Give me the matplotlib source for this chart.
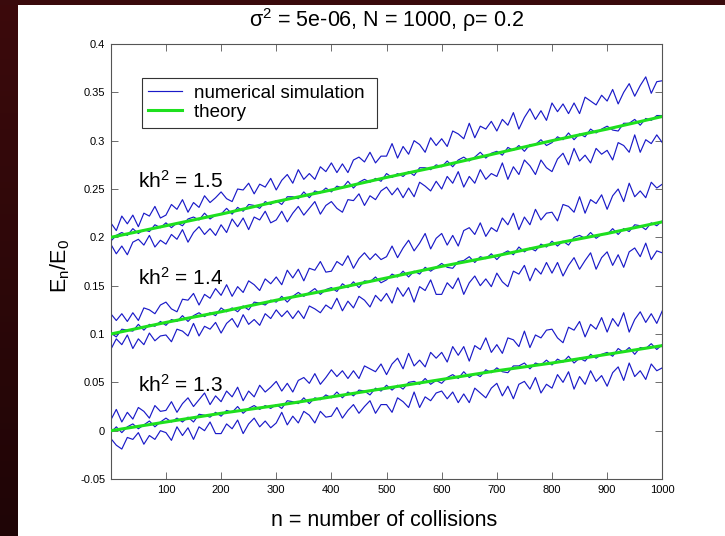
import numpy as np
import matplotlib
matplotlib.use("Agg")
import matplotlib.pyplot as plt
import matplotlib.colors as mco

plt.rcParams['font.family'] = ['Liberation Sans', 'DejaVu Sans']
plt.rcParams['mathtext.fontset'] = 'custom'
plt.rcParams['mathtext.rm'] = 'Liberation Sans'
plt.rcParams['mathtext.it'] = 'Liberation Sans:italic'
plt.rcParams['mathtext.bf'] = 'Liberation Sans:bold'

# collisions sampled every 10 (simulation) and every 100 (theory)
n_sim = list(range(0, 1001, 10))
n_theory = [0, 100, 200, 300, 400, 500, 600, 700, 800, 900, 1000]

# E_n/E_0 values, in thousandths
up_15 = [215, 207, 222, 214, 223, 211, 225, 222, 232, 220,
         223, 234, 229, 239, 226, 236, 231, 243, 236, 241,
         247, 240, 237, 250, 249, 256, 245, 255, 252, 261,
         249, 259, 265, 256, 270, 260, 266, 260, 273, 268,
         277, 267, 276, 267, 280, 283, 278, 288, 277, 284,
         284, 297, 282, 294, 286, 300, 296, 288, 303, 295,
         302, 294, 310, 307, 302, 318, 303, 315, 312, 320,
         310, 322, 316, 329, 312, 324, 333, 322, 331, 321,
         339, 330, 338, 328, 339, 328, 345, 341, 337, 347,
         341, 353, 338, 350, 359, 346, 357, 366, 349, 361, 362]
mid_15 = [196, 202, 205, 202, 209, 204, 208, 206, 213, 210,
          215, 210, 215, 212, 219, 221, 218, 225, 219, 223,
          224, 230, 224, 231, 227, 234, 233, 230, 237, 234,
          238, 234, 242, 242, 240, 247, 241, 248, 246, 251,
          247, 253, 251, 258, 251, 257, 260, 257, 261, 258,
          266, 262, 266, 263, 268, 264, 272, 272, 270, 275,
          273, 279, 273, 280, 283, 279, 283, 288, 282, 287,
          289, 285, 293, 290, 295, 289, 296, 296, 301, 295,
          298, 304, 301, 308, 301, 307, 304, 312, 308, 312,
          315, 311, 310, 318, 318, 322, 316, 323, 321, 326, 326]
low_15 = [193, 183, 191, 182, 195, 198, 192, 202, 190, 197,
          193, 203, 198, 208, 195, 205, 211, 203, 209, 202,
          213, 205, 219, 211, 220, 208, 221, 218, 227, 215,
          218, 227, 216, 225, 232, 223, 230, 237, 224, 233,
          237, 230, 226, 239, 238, 245, 233, 243, 239, 248,
          252, 244, 251, 241, 251, 242, 257, 253, 248, 258,
          250, 263, 256, 268, 252, 263, 256, 270, 260, 266,
          263, 277, 260, 273, 265, 280, 274, 265, 280, 272,
          268, 281, 287, 275, 292, 279, 285, 277, 292, 286,
          290, 280, 298, 295, 288, 306, 288, 301, 297, 306, 298]
theory_15 = [200, 212, 224, 237, 249, 262, 274, 287, 300, 312, 325]

up_14 = [121, 114, 121, 113, 122, 114, 127, 125, 121, 130,
         133, 126, 123, 136, 135, 142, 130, 141, 137, 147,
         140, 151, 139, 149, 143, 155, 151, 145, 157, 152,
         159, 151, 166, 158, 167, 155, 168, 166, 175, 164,
         165, 175, 171, 181, 168, 178, 184, 177, 183, 177,
         180, 191, 179, 189, 197, 186, 194, 204, 188, 199,
         204, 192, 202, 191, 207, 210, 203, 215, 201, 210,
         206, 220, 213, 225, 208, 221, 213, 229, 218, 225,
         226, 217, 234, 232, 226, 242, 225, 239, 235, 244,
         229, 243, 250, 237, 256, 242, 248, 241, 257, 251, 255]
mid_14 = [101, 97, 105, 104, 103, 110, 104, 110, 108, 113,
          109, 115, 113, 119, 113, 119, 122, 118, 122, 119,
          127, 123, 127, 123, 129, 125, 133, 132, 130, 135,
          133, 139, 133, 139, 143, 139, 143, 147, 141, 146,
          148, 144, 152, 148, 154, 148, 155, 154, 159, 153,
          156, 162, 159, 165, 159, 165, 162, 169, 165, 169,
          173, 169, 168, 175, 176, 180, 174, 180, 178, 183,
          177, 183, 186, 182, 190, 185, 189, 186, 193, 190,
          196, 191, 196, 192, 200, 202, 199, 205, 199, 203,
          203, 209, 203, 209, 206, 213, 212, 208, 215, 212, 217]
low_14 = [84, 95, 89, 99, 85, 95, 89, 101, 93, 98,
          99, 92, 105, 103, 98, 111, 98, 108, 105, 112,
          101, 111, 116, 107, 120, 110, 115, 109, 121, 116,
          125, 118, 124, 116, 124, 116, 129, 126, 122, 130,
          126, 137, 124, 134, 127, 139, 135, 128, 140, 134,
          142, 132, 148, 139, 148, 133, 149, 145, 156, 141,
          141, 153, 147, 158, 141, 153, 160, 150, 157, 149,
          163, 154, 149, 165, 162, 171, 155, 168, 162, 174,
          163, 174, 160, 171, 179, 167, 176, 184, 167, 179,
          185, 171, 182, 169, 185, 189, 180, 194, 177, 186, 184]
theory_14 = [100, 112, 123, 135, 146, 158, 170, 181, 193, 204, 216]

up_13 = [11, 22, 9, 19, 12, 24, 20, 13, 26, 20,
         21, 30, 19, 28, 34, 25, 32, 39, 27, 36,
         30, 41, 35, 45, 31, 41, 35, 47, 40, 45,
         51, 41, 49, 40, 52, 55, 49, 59, 48, 55,
         63, 56, 62, 54, 62, 54, 67, 64, 61, 69,
         58, 69, 75, 64, 80, 67, 73, 66, 81, 75,
         81, 71, 87, 78, 87, 72, 88, 84, 96, 81,
         89, 80, 96, 94, 87, 103, 86, 99, 96, 104,
         105, 96, 91, 107, 104, 113, 97, 110, 105, 117,
         102, 116, 108, 122, 102, 115, 123, 112, 121, 111, 124]
mid_13 = [-2, 4, -2, 4, 7, 2, 6, 10, 4, 9,
          13, 9, 13, 9, 14, 9, 17, 16, 14, 19,
          15, 21, 19, 25, 18, 23, 26, 22, 26, 23,
          27, 23, 31, 30, 28, 34, 28, 34, 32, 37,
          34, 40, 34, 40, 36, 42, 41, 37, 44, 41,
          47, 42, 47, 43, 50, 51, 48, 54, 48, 52,
          49, 55, 58, 54, 61, 55, 59, 56, 63, 60,
          65, 61, 60, 67, 67, 70, 64, 70, 68, 73,
          68, 74, 71, 77, 70, 75, 72, 79, 75, 79,
          81, 77, 85, 81, 86, 79, 86, 85, 90, 84, 89]
low_13 = [-8, -15, -19, -7, -9, -2, -14, -5, -9, 0,
          -2, -10, 4, -5, 3, -9, 4, 0, 9, -3,
          -3, 7, 2, 11, -3, 7, 13, 4, 10, 3,
          8, 19, 6, 15, 8, 20, 16, 8, 20, 14,
          15, 24, 13, 21, 27, 18, 25, 31, 18, 27,
          27, 19, 34, 30, 24, 40, 24, 35, 31, 39,
          41, 33, 40, 29, 38, 29, 44, 39, 34, 44,
          49, 36, 46, 33, 48, 51, 43, 55, 39, 48,
          44, 58, 50, 61, 43, 56, 48, 62, 51, 57,
          46, 60, 66, 52, 70, 56, 62, 53, 69, 62, 65]
theory_13 = [0, 9, 18, 26, 35, 44, 53, 62, 70, 79, 88]

labels = ['kh$^2$ = 1.5', 'kh$^2$ = 1.4', 'kh$^2$ = 1.3']
label_pos = [(49, 0.251), (49, 0.151), (49, 0.040)]

sim_curves = [up_15, mid_15, low_15, up_14, mid_14, low_14, up_13, mid_13, low_13]
theory_curves = [theory_15, theory_14, theory_13]

blue = '#1a1ac8'
green = '#1ee01e'

fig = plt.figure(figsize=(7.25, 5.36), dpi=100, facecolor='white')

# dark maroon frame on the left and top
bg = mco.LinearSegmentedColormap.from_list('frame', ['#1f0506', '#3c0a0c'])
axl = fig.add_axes([0, 0, 18 / 725, 1])
axl.imshow(np.linspace(0, 1, 100).reshape(-1, 1), cmap=bg, aspect='auto', origin='lower')
axl.set_axis_off()
axt = fig.add_axes([0, 1 - 5 / 536, 1, 5 / 536])
axt.set_facecolor('#3a0a0c')
axt.set_xticks([])
axt.set_yticks([])
for s in axt.spines.values():
    s.set_visible(False)

ax = fig.add_axes([0.1528, 0.1063, 0.7607, 0.8116])
for i, c in enumerate(sim_curves):
    ax.plot(n_sim, np.array(c) / 1000, color=blue, lw=0.85,
            label='numerical simulation' if i == 0 else None)
for i, c in enumerate(theory_curves):
    ax.plot(n_theory, np.array(c) / 1000, color=green, lw=2.2, zorder=5,
            label='theory' if i == 0 else None)

for t, (x, y) in zip(labels, label_pos):
    ax.text(x, y, t, fontsize=15, va='baseline', ha='left')

ax.set_xlim(0, 1000)
ax.set_ylim(-0.05, 0.4)
ax.set_xticks(n_theory[1:])
ax.set_yticks([-0.05, 0, 0.05, 0.1, 0.15, 0.2, 0.25, 0.3, 0.35, 0.4])
ax.xaxis.set_major_formatter(plt.FuncFormatter(lambda v, p: '%g' % v))
ax.yaxis.set_major_formatter(plt.FuncFormatter(lambda v, p: '%g' % round(v, 2)))
ax.tick_params(direction='in', length=5, width=0.6, colors='#555555',
               labelcolor='black', labelsize=8, top=True, right=True, pad=4)
for s in ax.spines.values():
    s.set_color('#555555')
    s.set_linewidth(0.8)

ax.set_title('σ$^2$ = 5e-06, N = 1000, ρ= 0.2', fontsize=15.5, pad=12)
ax.set_xlabel('n = number of collisions', fontsize=15.5)
ax.set_ylabel(r'E$_\mathrm{n}$/E$_\mathrm{0}$', fontsize=15.5)
ax.xaxis.set_label_coords(0.496, -0.071)
ax.yaxis.set_label_coords(-0.07, 0.49)

leg = ax.legend(loc='upper left', bbox_to_anchor=(0.056, 0.922), borderaxespad=0,
                fontsize=13.5, handlelength=1.8, handletextpad=0.65,
                labelspacing=0.12, borderpad=0.35, fancybox=False, framealpha=1)
leg.get_frame().set_edgecolor('#333333')
leg.get_frame().set_linewidth(0.8)
# a little more room on the right side of the box, as in the original
leg._legend_box.align = 'left'
for txt in leg.get_texts():
    txt.set_text(txt.get_text() + ' ')

fig.savefig('out.png', dpi=100)
